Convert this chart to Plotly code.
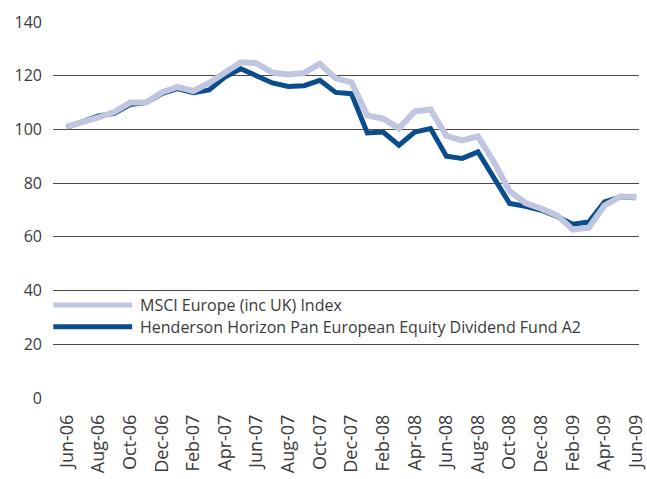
import plotly.graph_objects as go

months = ["Jun-06","Jul-06","Aug-06","Sep-06","Oct-06","Nov-06","Dec-06",
          "Jan-07","Feb-07","Mar-07","Apr-07","May-07","Jun-07","Jul-07","Aug-07","Sep-07","Oct-07","Nov-07","Dec-07",
          "Jan-08","Feb-08","Mar-08","Apr-08","May-08","Jun-08","Jul-08","Aug-08","Sep-08","Oct-08","Nov-08","Dec-08",
          "Jan-09","Feb-09","Mar-09","Apr-09","May-09","Jun-09"]

msci = [101, 102.5, 104.5, 106.5, 110, 110, 113.8,
        115.8, 114.3, 117.3, 121.4, 125, 124.7, 121.2, 120.5, 121, 124.5, 119, 117.5,
        105.2, 104, 100.4, 106.7, 107.4, 97.6, 95.9, 97.4, 88, 77, 72.6, 70.5,
        68, 62.7, 63.4, 71.7, 75, 74.8]

henderson = [100.8, 103, 105, 106, 109.3, 110, 113.3,
             115.2, 113.7, 114.7, 119.5, 122.6, 120, 117.3, 116, 116.3, 118.3, 113.8, 113.3,
             98.7, 99, 94.1, 99, 100.3, 90, 89.2, 91.6, 82, 72.4, 71.4, 69.9,
             67.6, 64.7, 65.5, 73, 74.8, 74.6]

tick_labels = months[::2]
y_ticks = [0, 20, 40, 60, 80, 100, 120, 140]

names = ["MSCI Europe (inc UK) Index",
         "Henderson Horizon Pan European Equity Dividend Fund A2"]
light = "#c0c6e0"
dark = "#0b4c8c"
FONT = "Open Sans"
TXT = "#3a3a3a"

idx = list(range(len(months)))

fig = go.Figure()
fig.add_trace(go.Scatter(x=idx, y=henderson, mode="lines", name=names[1],
                         line=dict(color=dark, width=5), xaxis="x2", showlegend=False))
fig.add_trace(go.Scatter(x=idx, y=msci, mode="lines", name=names[0],
                         line=dict(color=light, width=6), xaxis="x2", showlegend=False))

# legend drawn manually (long line samples)
for i, (nm, col, w) in enumerate([(names[0], light, 5), (names[1], dark, 5)]):
    yp = [0.2473, 0.1896][i]
    fig.add_shape(type="line", xref="paper", yref="paper", x0=0.0005, x1=0.135,
                  y0=yp, y1=yp, line=dict(color=col, width=w))
    fig.add_annotation(xref="paper", yref="paper", x=0.1448, y=yp, text=nm,
                       showarrow=False, xanchor="left", yanchor="middle",
                       font=dict(family=FONT, size=16, color=TXT))

n_ticks = len(tick_labels)
fig.update_layout(
    width=647, height=479,
    margin=dict(l=53, r=0, t=22, b=81),
    paper_bgcolor="white", plot_bgcolor="white",
    showlegend=False,
    font=dict(family=FONT, size=16, color=TXT),
    xaxis=dict(range=[0, 18.756], tickvals=list(range(n_ticks)),
               showticklabels=False, ticks="inside", ticklen=8, tickwidth=1.3,
               tickcolor="#333333", showgrid=False, zeroline=False,
               showline=True, linecolor="#333333", linewidth=1.5),
    xaxis2=dict(overlaying="x", anchor="y", side="bottom",
                range=[-0.873, 36.18], tickvals=idx[::2], ticktext=tick_labels,
                tickangle=-90, ticks="", showgrid=False, zeroline=False,
                showline=False, ticklabelstandoff=12, ticklabeloverflow="allow",
                tickfont=dict(family=FONT, size=18, color=TXT)),
    yaxis=dict(range=[0, 140], tickvals=y_ticks, showgrid=True,
               gridcolor="#4a4a4a", gridwidth=1.3, zeroline=False,
               showline=False, ticks="", ticklabelstandoff=10,
               tickfont=dict(family=FONT, size=16, color=TXT)),
)

fig.write_html("out.html")
